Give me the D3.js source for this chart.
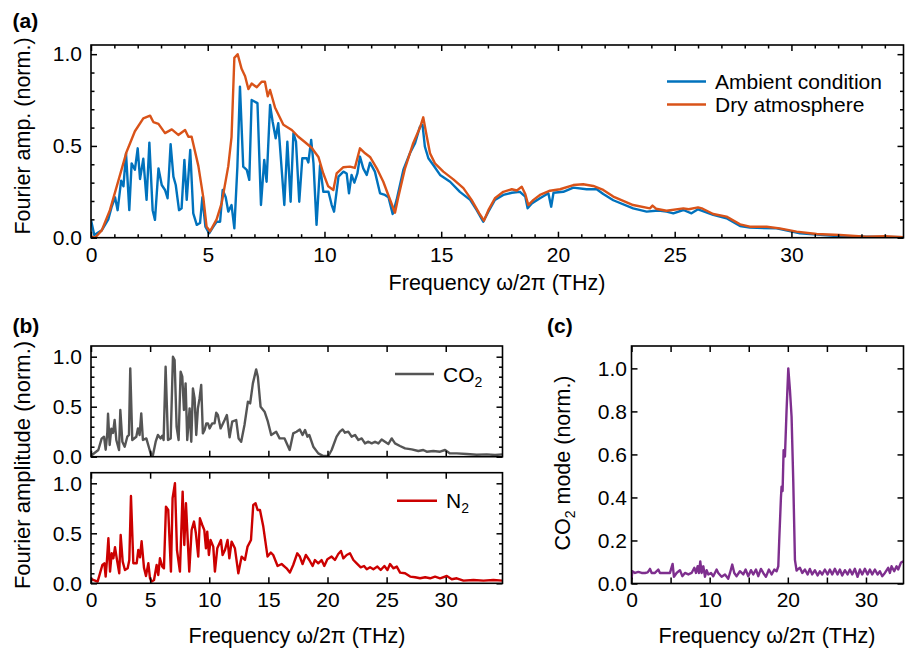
<!DOCTYPE html>
<html><head><meta charset="utf-8">
<script src="https://cdn.jsdelivr.net/npm/d3@7"></script>
<style>
body{margin:0;background:#fff}
svg text{font-family:'Liberation Sans',Arial,Helvetica,sans-serif;fill:#000}
</style></head><body>
<svg id="fig" width="905" height="648"></svg>
<script>
// ---------- data ----------
// (a) THz spectra, ambient air vs. dry atmosphere
const ambientFreq = [0,0.14,0.46,0.74,0.89,1.03,1.14,1.29,1.39,1.5,1.64,1.74,1.88,2.0,2.1,2.24,2.38,2.5,2.64,2.74,2.89,3.03,3.17,3.28,3.41,3.53,3.63,3.77,3.88,4.0,4.1,4.25,4.38,4.53,4.67,4.77,4.9,5.06,5.24,5.38,5.53,5.64,5.77,5.88,6.02,6.14,6.27,6.38,6.52,6.67,6.78,6.88,7.13,7.28,7.42,7.52,7.67,7.78,7.91,8.02,8.28,8.41,8.55,8.67,8.78,8.92,9.05,9.24,9.31,9.43,9.53,9.66,9.81,9.95,10.17,10.31,10.41,10.6,10.81,10.95,11.05,11.16,11.28,11.41,11.52,11.66,11.81,11.95,12.16,12.38,12.59,12.74,12.92,13.09,13.38,13.66,13.88,14.09,14.2,14.3,14.45,14.66,14.95,15.38,15.8,16.24,16.52,16.8,17.02,17.3,17.66,18.02,18.37,18.6,18.7,18.88,19.23,19.59,19.71,19.81,20.23,20.66,21.23,21.66,21.94,22.37,23.22,23.8,24.3,24.65,24.94,25.37,25.72,26.0,26.65,27.22,27.8,28.22,29.37,30.37,31.8,33.2,34.8];
const ambientAmp = [0.097,0.015,0.04,0.1,0.17,0.22,0.15,0.31,0.28,0.46,0.15,0.405,0.37,0.487,0.32,0.43,0.206,0.518,0.15,0.097,0.378,0.287,0.26,0.215,0.51,0.333,0.287,0.15,0.16,0.424,0.206,0.478,0.133,0.07,0.08,0.22,0.06,0.024,0.06,0.087,0.087,0.26,0.22,0.142,0.178,0.051,0.387,0.823,0.387,0.37,0.315,0.75,0.733,0.178,0.424,0.305,0.724,0.632,0.542,0.624,0.178,0.523,0.196,0.569,0.523,0.196,0.433,0.433,0.41,0.533,0.405,0.07,0.395,0.25,0.25,0.178,0.142,0.333,0.36,0.35,0.242,0.342,0.3,0.35,0.442,0.378,0.342,0.409,0.36,0.242,0.233,0.22,0.129,0.206,0.37,0.46,0.515,0.605,0.615,0.496,0.433,0.396,0.342,0.305,0.25,0.206,0.15,0.087,0.142,0.206,0.233,0.245,0.25,0.224,0.16,0.187,0.215,0.242,0.169,0.245,0.25,0.273,0.264,0.264,0.238,0.204,0.16,0.142,0.148,0.142,0.133,0.151,0.133,0.155,0.124,0.106,0.064,0.055,0.051,0.024,0.01,0.006,0.003];
const dryFreq = [0,0.17,0.46,0.81,1.17,1.53,1.88,2.24,2.53,2.67,2.89,3.17,3.46,3.74,4.03,4.17,4.31,4.6,4.81,4.95,5.1,5.38,5.6,5.88,6.02,6.14,6.28,6.45,6.6,6.74,6.88,7.1,7.31,7.45,7.57,7.67,7.88,8.24,8.6,8.88,9.17,9.45,9.74,9.95,10.16,10.38,10.52,10.81,11.09,11.3,11.52,11.74,11.95,12.24,12.52,12.74,13.02,13.16,13.45,13.8,14.09,14.23,14.37,14.52,14.73,15.09,15.52,15.95,16.3,16.63,16.83,17.02,17.3,17.66,18.02,18.24,18.45,18.6,18.73,18.95,19.23,19.66,20.09,20.66,21.08,21.51,21.94,22.37,23.22,23.94,24.05,24.2,24.65,25.37,25.6,26.0,26.2,26.65,27.22,27.8,28.22,28.94,29.5,30.22,31.08,32.07,33.2,34.0,34.8];
const dryAmp = [0.005,0.0,0.04,0.15,0.31,0.47,0.58,0.65,0.665,0.63,0.62,0.57,0.59,0.56,0.587,0.55,0.55,0.39,0.22,0.06,0.035,0.1,0.19,0.39,0.55,0.98,1.0,0.92,0.88,0.81,0.84,0.82,0.85,0.85,0.77,0.805,0.71,0.615,0.587,0.55,0.52,0.49,0.44,0.35,0.28,0.26,0.35,0.384,0.387,0.38,0.487,0.46,0.44,0.378,0.305,0.23,0.136,0.22,0.378,0.515,0.6,0.656,0.56,0.46,0.405,0.36,0.318,0.27,0.206,0.133,0.093,0.15,0.215,0.25,0.264,0.257,0.278,0.238,0.178,0.206,0.233,0.256,0.264,0.287,0.291,0.282,0.26,0.224,0.178,0.16,0.175,0.158,0.147,0.16,0.155,0.165,0.158,0.129,0.115,0.073,0.06,0.06,0.051,0.033,0.02,0.015,0.006,0.008,0.003];

// (b) CO2 and N2 contributions
const co2Freq = [0,0.08,0.62,0.9,1.1,1.24,1.38,1.44,1.58,1.72,1.86,2.0,2.14,2.37,2.48,2.65,2.85,3.07,3.21,3.32,3.49,3.83,3.97,4.11,4.25,4.39,4.68,4.96,5.1,5.24,5.47,5.66,5.89,6.03,6.14,6.31,6.51,6.74,6.93,7.07,7.24,7.41,7.58,7.72,7.86,8.0,8.14,8.34,8.48,8.62,8.76,8.9,9.04,9.18,9.32,9.46,9.61,9.75,9.89,10.03,10.25,10.45,10.59,10.73,10.96,11.3,11.49,11.72,11.94,12.28,12.48,12.7,12.98,13.27,13.46,13.69,13.97,14.11,14.34,14.68,14.96,15.24,15.66,15.95,16.37,16.8,17.1,17.38,17.66,17.89,18.1,18.3,18.46,18.8,19.22,19.65,20.07,20.35,20.77,21.05,21.28,21.48,21.76,22.04,22.33,22.61,22.89,23.17,23.46,23.74,24.02,24.3,24.58,24.86,25.15,25.43,25.71,26.13,26.56,27.12,27.68,28.1,28.39,28.95,29.52,29.94,30.36,30.93,31.77,32.62,33.47,34.17,34.8];
const co2Amp = [0.033,0.017,0.067,0.18,0.2,0.07,0.24,0.43,0.117,0.28,0.237,0.367,0.167,0.067,0.467,0.15,0.1,0.2,0.217,0.883,0.167,0.2,0.283,0.217,0.433,0.167,0.183,0.067,0.017,0.017,0.15,0.217,0.183,0.21,0.167,0.9,0.167,0.183,1.0,0.967,0.3,0.167,0.85,0.8,0.467,0.733,0.167,0.483,0.15,0.683,0.583,0.217,0.483,0.583,0.717,0.233,0.267,0.333,0.333,0.283,0.333,0.333,0.44,0.417,0.283,0.367,0.417,0.193,0.35,0.367,0.183,0.15,0.317,0.55,0.533,0.733,0.873,0.8,0.5,0.45,0.35,0.217,0.25,0.183,0.183,0.067,0.233,0.25,0.273,0.217,0.267,0.2,0.217,0.1,0.033,0.007,0.007,0.067,0.2,0.25,0.273,0.24,0.25,0.2,0.217,0.167,0.183,0.133,0.15,0.133,0.15,0.133,0.173,0.15,0.127,0.183,0.133,0.107,0.083,0.073,0.057,0.067,0.05,0.057,0.05,0.067,0.033,0.033,0.027,0.02,0.023,0.017,0.023];
const n2Freq = [0,0.08,0.56,0.76,0.96,1.13,1.24,1.35,1.47,1.61,1.75,1.89,2.03,2.2,2.39,2.51,2.68,2.87,3.1,3.24,3.38,3.58,3.86,4.0,4.14,4.28,4.48,4.65,4.85,4.99,5.13,5.33,5.55,5.69,5.83,6.03,6.17,6.34,6.53,6.76,6.9,7.1,7.27,7.52,7.75,7.89,8.03,8.31,8.51,8.71,8.87,9.07,9.21,9.41,9.58,9.72,9.83,9.97,10.11,10.34,10.48,10.68,10.99,11.13,11.33,11.55,11.7,11.89,12.17,12.46,12.74,13.02,13.24,13.53,13.72,13.92,14.09,14.29,14.57,14.93,15.21,15.41,15.78,16.12,16.54,16.82,17.1,17.44,17.66,17.89,18.17,18.46,18.74,18.94,19.22,19.5,19.73,19.99,20.35,20.63,20.91,21.14,21.34,21.62,21.9,22.19,22.47,22.81,23.09,23.32,23.6,23.88,24.22,24.5,24.81,25.07,25.29,25.57,25.86,26.14,26.56,26.99,27.41,27.83,28.26,28.68,29.1,29.52,30.09,30.51,30.93,31.5,32.34,33.19,34.03,34.8];
const n2Amp = [0.05,0.04,0.017,0.1,0.183,0.2,0.067,0.233,0.45,0.117,0.3,0.25,0.36,0.233,0.1,0.483,0.217,0.133,0.15,0.233,0.873,0.2,0.2,0.333,0.26,0.42,0.157,0.073,0.2,0.05,0.017,0.033,0.183,0.083,0.25,0.167,0.15,0.767,0.733,0.117,0.85,1.0,0.333,0.117,0.917,0.383,0.8,0.117,0.533,0.617,0.5,0.267,0.65,0.583,0.533,0.35,0.517,0.283,0.433,0.367,0.117,0.35,0.433,0.283,0.333,0.433,0.25,0.417,0.35,0.1,0.267,0.233,0.367,0.433,0.783,0.8,0.733,0.733,0.567,0.267,0.307,0.283,0.173,0.193,0.15,0.107,0.183,0.3,0.267,0.193,0.283,0.233,0.173,0.233,0.2,0.233,0.173,0.24,0.267,0.233,0.293,0.323,0.25,0.283,0.3,0.233,0.2,0.16,0.173,0.14,0.16,0.14,0.167,0.133,0.173,0.133,0.193,0.15,0.167,0.107,0.1,0.067,0.06,0.05,0.06,0.05,0.067,0.05,0.073,0.04,0.05,0.027,0.033,0.027,0.033,0.027];

// (c) extracted CO2 mode
const modeFreq = [0,0.11,0.45,0.87,1.3,1.73,2.07,2.37,2.58,3.0,3.43,3.64,4.07,4.5,4.92,5.26,5.43,5.77,6.2,6.5,6.84,7.27,7.69,8.04,8.25,8.46,8.63,8.8,8.97,9.19,9.4,9.61,9.83,10.17,10.46,10.89,11.1,11.53,11.96,12.38,12.6,12.89,13.15,13.45,13.87,14.3,14.6,14.94,15.28,15.58,15.92,16.22,16.56,16.86,17.2,17.58,17.93,18.27,18.56,18.78,18.9,19.12,19.2,19.33,19.46,19.63,19.84,20.06,20.27,20.48,20.7,20.91,21.12,21.25,21.55,21.85,22.19,22.53,22.82,23.12,23.47,23.81,24.1,24.4,24.74,25.08,25.38,25.68,26.02,26.36,26.66,26.96,27.3,27.64,27.94,28.24,28.58,28.92,29.22,29.52,29.86,30.2,30.5,30.8,31.14,31.48,31.78,32.08,32.42,32.84,33.06,33.27,33.61,33.91,34.12,34.46,34.76];
const modeAmp = [0.019,0.057,0.049,0.054,0.049,0.049,0.052,0.068,0.049,0.049,0.065,0.049,0.049,0.049,0.049,0.091,0.031,0.049,0.062,0.034,0.049,0.042,0.049,0.073,0.049,0.08,0.049,0.103,0.049,0.08,0.031,0.062,0.042,0.049,0.034,0.065,0.049,0.031,0.042,0.022,0.049,0.088,0.049,0.034,0.057,0.042,0.065,0.034,0.062,0.042,0.065,0.034,0.068,0.049,0.031,0.065,0.042,0.065,0.057,0.08,0.2,0.4,0.45,0.43,0.62,0.59,0.806,1.0,0.9,0.775,0.47,0.11,0.06,0.065,0.073,0.049,0.065,0.042,0.068,0.042,0.062,0.037,0.057,0.042,0.065,0.042,0.065,0.042,0.068,0.042,0.065,0.037,0.062,0.042,0.065,0.042,0.068,0.031,0.065,0.042,0.068,0.042,0.065,0.042,0.065,0.042,0.057,0.034,0.049,0.073,0.049,0.08,0.057,0.08,0.065,0.096,0.103,0.096];

const freqMajor = [0,5,10,15,20,25,30];
const freqMinor = d3.range(0, 35).filter(v => v % 5 !== 0);
const ampMajor = [0, 0.5, 1.0];
const ampMinor = [0.1,0.2,0.3,0.4,0.6,0.7,0.8,0.9];
const modeTicks = [0, 0.2, 0.4, 0.6, 0.8, 1.0];
const freqLabelsC = [0, 10, 20, 30];

// ---------- drawing ----------
const svg = d3.select("#fig");
const defs = svg.append("defs");
const FONT = 21;
const TITLE = 21.5;
const freqDomain = [0, 34.8];
const fmt1 = d3.format(".1f");

function drawPanel(p) {
  const x = d3.scaleLinear().domain(freqDomain).range([p.left, p.right]);
  const y = d3.scaleLinear().domain([0, p.yMax]).range([p.bottom, p.top]);
  const g = svg.append("g");
  const id = "clip-" + p.name;
  defs.append("clipPath").attr("id", id).append("rect")
    .attr("x", p.left).attr("y", p.top)
    .attr("width", p.right - p.left).attr("height", p.bottom - p.top);

  p.series.forEach(s => {
    const pts = s.f.map((f, i) => [f, s.v[i]]);
    g.append("path")
      .attr("clip-path", `url(#${id})`)
      .attr("d", d3.line().x(d => x(d[0])).y(d => y(d[1]))(pts))
      .attr("fill", "none").attr("stroke", s.color)
      .attr("stroke-width", 2.4).attr("stroke-linejoin", "round");
  });

  function axis(fn, scale, ticks, size, fmt, tr, pad) {
    const a = fn(scale).tickValues(ticks).tickSize(-size).tickSizeOuter(0)
      .tickPadding(pad).tickFormat(fmt || (() => ""));
    const ag = g.append("g").attr("transform", tr).call(a);
    ag.select(".domain").remove();
    ag.selectAll("line").attr("stroke", "#000").attr("stroke-width", 1.5);
    ag.selectAll("text").attr("font-size", FONT);
    return ag;
  }
  const tb = `translate(0,${p.bottom})`, tt = `translate(0,${p.top})`;
  const tl = `translate(${p.left},0)`, tr = `translate(${p.right},0)`;
  // x axes (bottom with labels, top mirrored)
  axis(d3.axisBottom, x, p.xMajor, 6, p.xFmt, tb, 9);
  axis(d3.axisTop, x, p.xMajor, 6, null, tt, 9);
  if (p.xMinor) {
    axis(d3.axisBottom, x, p.xMinor, 3.5, null, tb, 9);
    axis(d3.axisTop, x, p.xMinor, 3.5, null, tt, 9);
  }
  // y axes (left with labels, right mirrored)
  axis(d3.axisLeft, y, p.yMajor, 6, fmt1, tl, p.yPad);
  axis(d3.axisRight, y, p.yMajor, 6, null, tr, 9);
  if (p.yMinor) {
    axis(d3.axisLeft, y, p.yMinor, 3.5, null, tl, 9);
    axis(d3.axisRight, y, p.yMinor, 3.5, null, tr, 9);
  }
  g.append("rect").attr("x", p.left).attr("y", p.top)
    .attr("width", p.right - p.left).attr("height", p.bottom - p.top)
    .attr("fill", "none").attr("stroke", "#000").attr("stroke-width", 1.6);
  return {x, y, g};
}

// (a)
drawPanel({
  name: "a", left: 91, right: 903.5, top: 45, bottom: 237.7, yMax: 1.05,
  xMajor: freqMajor, xMinor: freqMinor, xFmt: d3.format("d"),
  yMajor: ampMajor, yMinor: ampMinor, yPad: 9,
  series: [
    {f: ambientFreq, v: ambientAmp, color: "#0072BD"},
    {f: dryFreq, v: dryAmp, color: "#D95319"}
  ]
});
// (b) top: CO2
drawPanel({
  name: "b1", left: 91, right: 502.5, top: 346, bottom: 456.7, yMax: 1.107,
  xMajor: freqMajor, xFmt: null,
  yMajor: ampMajor, yMinor: ampMinor, yPad: 9,
  series: [{f: co2Freq, v: co2Amp, color: "#555555"}]
});
// (b) bottom: N2
drawPanel({
  name: "b2", left: 91, right: 502.5, top: 472.7, bottom: 583.3, yMax: 1.106,
  xMajor: freqMajor, xFmt: d3.format("d"),
  yMajor: ampMajor, yMinor: ampMinor, yPad: 9,
  series: [{f: n2Freq, v: n2Amp, color: "#CC0000"}]
});
// (c)
drawPanel({
  name: "c", left: 631.5, right: 903.5, top: 346, bottom: 583.5, yMax: 1.104,
  xMajor: freqMajor, xFmt: v => freqLabelsC.includes(v) ? v : "",
  yMajor: modeTicks, yPad: 4.5,
  series: [{f: modeFreq, v: modeAmp, color: "#7E2F8E"}]
});

// ---------- labels ----------
function text(x, y, str, opts = {}) {
  const t = svg.append("text").attr("x", x).attr("y", y).attr("font-size", opts.size || FONT)
    .attr("text-anchor", opts.anchor || "start").text(str);
  if (opts.bold) t.attr("font-weight", "bold");
  return t;
}
text(12.5, 28, "(a)", {bold: true});
text(12.5, 333, "(b)", {bold: true});
text(547, 333, "(c)", {bold: true});

text(497, 290, "Frequency ω/2π (THz)", {anchor: "middle", size: TITLE});
text(297, 643, "Frequency ω/2π (THz)", {anchor: "middle", size: TITLE});
text(767, 643, "Frequency ω/2π (THz)", {anchor: "middle", size: TITLE});

svg.append("text").attr("transform", "translate(30,136) rotate(-90)")
  .attr("font-size", TITLE).attr("text-anchor", "middle").text("Fourier amp. (norm.)");
svg.append("text").attr("transform", "translate(30,465) rotate(-90)")
  .attr("font-size", 22).attr("text-anchor", "middle").text("Fourier amplitude (norm.)");
const cl = svg.append("text").attr("transform", "translate(570,463) rotate(-90)")
  .attr("font-size", TITLE).attr("text-anchor", "middle");
cl.append("tspan").text("CO");
cl.append("tspan").attr("font-size", 14).attr("dy", 5).text("2");
cl.append("tspan").attr("dy", -5).text(" mode (norm.)");

// legends
function legendItem(x1, x2, y, color, parts) {
  svg.append("line").attr("x1", x1).attr("x2", x2).attr("y1", y).attr("y2", y)
    .attr("stroke", color).attr("stroke-width", 2.4);
  const t = svg.append("text").attr("x", x2 + 9).attr("y", y + 7.5).attr("font-size", FONT);
  parts.forEach(pt => {
    const s = t.append("tspan").text(pt.t);
    if (pt.sub) s.attr("font-size", 14).attr("dy", 5);
  });
}
legendItem(667, 706, 81.5, "#0072BD", [{t: "Ambient condition"}]);
legendItem(667, 706, 104.5, "#D95319", [{t: "Dry atmosphere"}]);
legendItem(395, 434, 374, "#555555", [{t: "CO"}, {t: "2", sub: true}]);
legendItem(397, 437, 500.7, "#CC0000", [{t: "N"}, {t: "2", sub: true}]);
</script>
</body></html>
